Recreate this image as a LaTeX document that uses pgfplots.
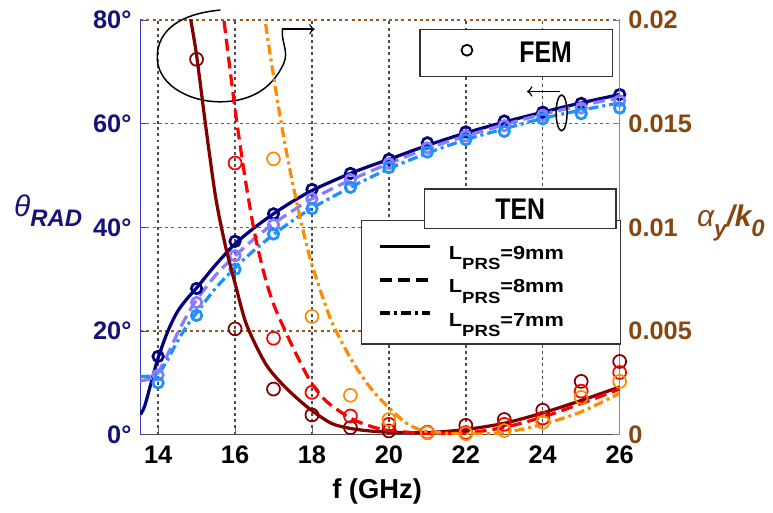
\documentclass[border=0pt]{standalone}
\usepackage{fontspec}
\setmainfont{Liberation Sans}
\usepackage{pgfplots}
\pgfplotsset{compat=1.18}
\definecolor{navy}{RGB}{0,0,128}
\definecolor{lavender}{RGB}{135,125,255}
\definecolor{skyb}{RGB}{30,144,255}
\definecolor{dred}{RGB}{128,0,0}
\definecolor{ored}{RGB}{255,0,0}
\definecolor{orng}{RGB}{255,140,0}
\definecolor{navytxt}{RGB}{20,20,120}
\definecolor{browntxt}{RGB}{135,70,15}
\definecolor{brownline}{RGB}{175,130,90}
\definecolor{browngrid}{RGB}{150,90,30}
\definecolor{leftaxis}{RGB}{60,60,190}
\tikzset{
  dashstyle/.style={dash pattern=on 4.8pt off 2.4pt},
  dashdotstyle/.style={dash pattern=on 4pt off 1.6pt on 1.2pt off 1.6pt},
}
\newcommand\tickfont{\fontsize{10.2}{12}\selectfont\bfseries}
\newcommand\lprs[1]{\scalebox{1.15}[1]{L\raisebox{-4.2pt}{\fontsize{6.5}{7}\selectfont PRS}=#1mm}}
\begin{document}
\begin{tikzpicture}
\begin{axis}[
  scale only axis, width=192.8pt, height=166.8pt,
  xmin=13.535, xmax=26, ymin=0, ymax=80,
  axis y line*=left, axis x line*=bottom,
  y axis line style={leftaxis, line width=0.5pt},
  x axis line style={black!70, line width=0.5pt},
  xtick={14,16,18,20,22,24,26},
  ytick={0,20,40,60,80},
  yticklabels={0°,20°,40°,60°,80°},
  xmajorgrids, ymajorgrids,
  x grid style={black!70, dash pattern=on 1.2pt off 1.3pt, line width=0.6pt},
  y grid style={browngrid, dash pattern=on 1.2pt off 1.3pt, line width=0.6pt},
  tick align=inside, major tick length=2.5pt,
  xtick style={black!60}, ytick style={leftaxis},
  /pgf/number format/assume math mode=true,
  xticklabel style={font=\tickfont, black, yshift=-1pt},
  yticklabel style={font=\tickfont, navytxt},
  xlabel={f (GHz)},
  xlabel style={font=\fontsize{11}{13}\selectfont\bfseries, at={(axis description cs:0.494,-0.155)}, anchor=base},
  clip mode=individual,
]
% TEN theta curves
\addplot[navy, line width=1.3pt, smooth, tension=0.5] coordinates {
(13.54,3.9) (13.65,5.5) (13.8,9.5) (14,14.8) (14.25,19.9) (14.5,23.7) (14.75,26.2) (15,28.3)
(15.5,32.8) (16,36.8) (16.5,39.9) (17,42.6) (17.5,45.0) (18,47.1) (18.5,48.8) (19,50.4)
(19.5,51.8) (20,53.1) (21,55.8) (22,58.2) (23,60.3) (24,62.2) (25,64.0) (26,65.6)};
\addplot[lavender, line width=1.3pt, dashstyle, smooth, tension=0.5] coordinates {
(13.54,10.4) (13.7,10.6) (13.85,11.0) (14,12.0) (14.25,15.5) (14.5,19.5) (14.75,23.0) (15,26.0)
(15.5,30.8) (16,34.5) (16.5,37.8) (17,40.7) (17.5,43.2) (18,45.5) (19,49.1) (20,52.3)
(21,55.2) (22,57.6) (23,59.8) (24,61.8) (25,63.5) (26,65.0)};
\addplot[skyb, line width=1.3pt, dashdotstyle, smooth, tension=0.5] coordinates {
(13.54,11.2) (13.8,11.3) (14,11.6) (14.25,14.5) (14.5,18.0) (14.75,21.0) (15,23.5)
(15.5,28.3) (16,32.2) (16.5,35.6) (17,38.6) (17.5,41.3) (18,43.7) (19,47.7) (20,51.3)
(21,54.3) (22,56.9) (23,59.0) (24,61.0) (25,62.6) (26,64.0)};
% FEM theta
\addplot[only marks, mark=o, mark size=2.1pt, navy, line width=1.1pt] coordinates {
(14,15.1) (15,28.2) (16,37.3) (17,42.6) (18,47.3) (19,50.4) (20,53.1) (21,56.3) (22,58.4)
(23,60.5) (24,62.2) (25,63.9) (26,65.6)};
\addplot[only marks, mark=o, mark size=2.1pt, lavender, line width=1.1pt] coordinates {
(14,11.5) (15,25.5) (16,34.5) (17,40.5) (18,45.5) (19,49.2) (20,52.3) (21,55.3) (22,57.6)
(23,59.6) (24,61.6) (25,63.0) (26,64.4)};
\addplot[only marks, mark=o, mark size=2.1pt, skyb, line width=1.1pt] coordinates {
(14,10.0) (15,23.0) (16,31.9) (17,38.7) (18,43.6) (19,47.7) (20,51.5) (21,54.5) (22,56.9)
(23,58.5) (24,60.9) (25,61.9) (26,63.0)};

% annotations
\draw[black, line width=0.6pt] (axis cs:15.62,81.9) to[out=185,in=85] (axis cs:13.98,73.5)
  to[out=-95,in=180] (axis cs:15.6,64.2) to[out=0,in=-115] (axis cs:17.26,71.5)
  to[out=65,in=-95] (axis cs:17.23,78.2);
\draw[black, line width=0.6pt, ->] (axis cs:17.23,78.2) -- (axis cs:18.07,78.2);
\draw[black, line width=0.6pt] (axis cs:24.49,62.07) ellipse [x radius=2.2pt, y radius=7.2pt];
\draw[black, line width=0.6pt, ->] (axis cs:24.45,66.2) -- (axis cs:23.59,66.2);

% bounding box of the whole picture
\path (axis description cs:-0.2925,-0.1727) rectangle (axis description cs:1.3112,1.048);
\end{axis}

\begin{axis}[
  scale only axis, width=192.8pt, height=166.8pt,
  xmin=13.535, xmax=26, ymin=0, ymax=0.02,
  axis y line*=right, hide x axis,
  y axis line style={brownline, line width=0.6pt},
  ytick={0,0.005,0.01,0.015,0.02},
  yticklabels={0,0.005,0.01,0.015,0.02},
  scaled y ticks=false,
  tick align=inside, major tick length=2.5pt, ytick style={black!50},
  yticklabel style={font=\tickfont, browntxt},
  clip mode=individual,
  legend style={at={(0.461,0.5187)}, anchor=north west, draw=black!80, line width=0.5pt, fill=white,
    inner xsep=6.4pt, inner ysep=7pt, font=\fontsize{7.6}{8.5}\selectfont\bfseries,
    nodes={inner sep=0pt, text height=8.8pt, text depth=0.2pt}, row sep=4.4pt,
    /tikz/every odd column/.append style={column sep=7pt}},
  legend cell align=left,
  legend image code/.code={\draw[#1] (0pt,0.9pt) -- (20pt,0.9pt);},
]
\addlegendimage{black, line width=1.6pt}
\addlegendentry{\makebox[62.6pt][l]{\lprs{9}}}
\addlegendimage{black, line width=1.6pt, dashstyle}
\addlegendentry{\makebox[62.6pt][l]{\lprs{8}}}
\addlegendimage{black, line width=1.6pt, dashdotstyle}
\addlegendentry{\makebox[62.6pt][l]{\lprs{7}}}

% TEN alpha curves
\addplot[dred, line width=1.3pt, smooth, tension=0.45] coordinates {
(14.80,0.0208) (14.85,0.0200) (15.00,0.0183) (15.25,0.0147) (15.50,0.0114) (15.75,0.0091)
(16.00,0.0073) (16.30,0.0053) (16.80,0.0034) (17.30,0.0023) (17.90,0.0013) (18.50,0.00055)
(19.00,0.00030) (19.50,0.00018) (20.00,0.00012) (21.00,0.00010) (22.00,0.00025) (23.00,0.00055)
(24.00,0.00105) (25.00,0.00165) (26.00,0.00230)};
\addplot[ored, line width=1.3pt, dashstyle, smooth, tension=0.45] coordinates {
(15.66,0.0208) (15.71,0.0200) (16.00,0.0157) (16.25,0.0125) (16.50,0.0098) (16.75,0.0078)
(17.00,0.0063) (17.43,0.0045) (17.95,0.0026) (18.38,0.0016) (19.00,0.0008) (19.50,0.00042)
(20.00,0.00020) (21.00,0.00006) (22.00,0.00008) (23.00,0.00035) (24.00,0.00085) (25.00,0.0015)
(26.00,0.0022)};
\addplot[orng, line width=1.3pt, dashdotstyle, smooth, tension=0.45] coordinates {
(16.74,0.0208) (16.78,0.0200) (17.00,0.0173) (17.25,0.0145) (17.50,0.0121) (17.75,0.0100)
(18.00,0.0082) (18.50,0.0055) (19.00,0.0037) (19.50,0.0023) (20.00,0.0013) (20.50,0.0005)
(21.00,0.00015) (22.00,0.00003) (23.00,0.0001) (24.00,0.0005) (25.00,0.0011) (26.00,0.0020)};
% FEM alpha
\addplot[only marks, mark=o, mark size=2.6pt, dred, line width=0.7pt] coordinates {
(15,0.0181) (16,0.0051) (17,0.0022) (18,0.00095) (19,0.00034) (20,0.00018) (21,0.00012)
(22,0.00045) (23,0.00073) (24,0.00118) (25,0.00257) (26,0.00353)};
\addplot[only marks, mark=o, mark size=2.6pt, ored, line width=0.7pt] coordinates {
(16,0.0131) (17,0.00465) (18,0.00204) (19,0.0009) (20,0.0005) (21,0.0001) (22,0.0001)
(23,0.0005) (24,0.0008) (25,0.0021) (26,0.0030)};
\addplot[only marks, mark=o, mark size=2.6pt, orng, line width=0.7pt] coordinates {
(17,0.0133) (18,0.0057) (19,0.0019) (20,0.00073) (21,0.0001) (22,0.00005) (23,0.0002)
(24,0.0006) (25,0.0018) (26,0.00257)};

\coordinate (tenc) at (axis description cs:0.7925,0.5444);
\coordinate (femc) at (axis description cs:0.5824,0.9777);
\node[navytxt, anchor=center] at (axis description cs:-0.192,0.54)
  {{\fontsize{12}{12}\selectfont\itshape θ}\raisebox{-3.7pt}{\fontsize{9.6}{10}\selectfont\bfseries\itshape RAD}};
\node[browntxt, anchor=center] at (axis description cs:1.232,0.51)
  {{\fontsize{12}{12}\selectfont\itshape α}\raisebox{-4pt}{\fontsize{9}{10}\selectfont\bfseries\itshape y}{\fontsize{12}{12}\selectfont\bfseries\itshape /k}\raisebox{-4pt}{\fontsize{9.6}{10}\selectfont\bfseries\itshape 0}};
\end{axis}
% TEN title box
\node[draw=black!80, line width=0.5pt, fill=white, minimum width=77pt, minimum height=16pt,
  inner sep=0pt, font=\fontsize{10}{12}\selectfont\bfseries] at (tenc) {\scalebox{1}[1.2]{TEN}};
% FEM legend frame
\node[draw=black!80, line width=0.5pt, fill=white, minimum width=77.3pt, minimum height=18.7pt,
  inner sep=0pt, anchor=north west] at (femc) {};
% FEM legend entry (drawn on the frame)
\begin{axis}[
  scale only axis, width=192.8pt, height=166.8pt,
  xmin=0, xmax=1, ymin=0, ymax=1, hide axis,
  legend style={at={(0.5824,0.9777)}, anchor=north west, draw=none, fill=none,
    inner xsep=10.4pt, inner ysep=5pt, font=\fontsize{10}{12}\selectfont\bfseries,
    nodes={inner sep=0pt}, /tikz/every odd column/.append style={column sep=12.6pt}},
  legend image code/.code={\path[#1, draw=none] plot coordinates {(0pt,0pt) (8.5pt,1.6pt) (17pt,0pt)};},
]
\addlegendimage{black, mark=o, mark size=2.2pt, line width=0.7pt, mark repeat=2, mark phase=2}
\addlegendentry{\scalebox{1}[1.2]{FEM}}
\end{axis}
\end{tikzpicture}
\end{document}
